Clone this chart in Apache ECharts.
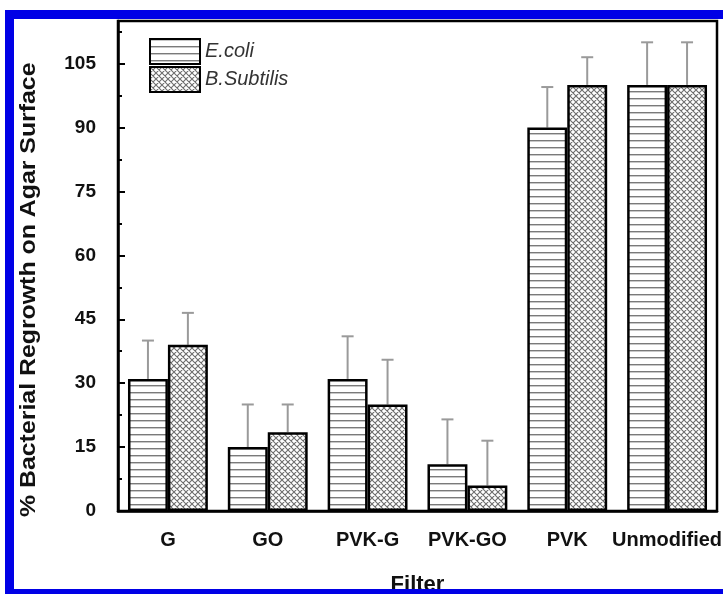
<!DOCTYPE html>
<html>
<head>
<meta charset="utf-8">
<script src="https://cdn.jsdelivr.net/npm/echarts@6/dist/echarts.min.js"></script>
<style>
html,body{margin:0;padding:0;background:#fff;}
#chart{width:723px;height:594px;}
</style>
</head>
<body>
<div id="chart"></div>
<script>
// ---- data ----
var categories = ['G', 'GO', 'PVK-G', 'PVK-GO', 'PVK', 'Unmodified'];
var ecoli      = [31, 15, 31, 11, 90, 100];
var ecoliErr   = [9, 10, 10, 10.5, 9.5, 10];
var bsub       = [39, 18.5, 25, 6, 100, 100];
var bsubErr    = [7.5, 6.5, 10.5, 10.5, 6.5, 10];
var yTicks     = [0, 15, 30, 45, 60, 75, 90, 105];

// ---- patterns ----
function linePattern() {
  var c = document.createElement('canvas');
  c.width = 4; c.height = 7;
  var g = c.getContext('2d');
  g.fillStyle = '#ffffff'; g.fillRect(0, 0, 4, 7);
  g.fillStyle = '#7a7a7a'; g.fillRect(0, 0, 4, 1);
  g.fillStyle = '#c8c8c8'; g.fillRect(0, 1, 4, 1);
  return c;
}
function crossPattern() {
  var c = document.createElement('canvas');
  c.width = 6; c.height = 6;
  var g = c.getContext('2d');
  g.fillStyle = '#ffffff'; g.fillRect(0, 0, 6, 6);
  g.strokeStyle = '#6e6e6e'; g.lineWidth = 1.1;
  g.beginPath();
  g.moveTo(-1, -1); g.lineTo(7, 7);
  g.moveTo(-1, 5); g.lineTo(1, 7);
  g.moveTo(5, -1); g.lineTo(7, 1);
  g.moveTo(7, -1); g.lineTo(-1, 7);
  g.moveTo(1, -1); g.lineTo(-1, 1);
  g.moveTo(7, 5); g.lineTo(5, 7);
  g.stroke();
  return c;
}

function errData(vals, errs) {
  return vals.map(function (v, i) { return [i, v, v + errs[i]]; });
}
function errRender(offset) {
  return function (params, api) {
    var idx = api.value(0);
    var p0 = api.coord([idx, api.value(1)]);
    var p1 = api.coord([idx, api.value(2)]);
    var bw = api.size([1, 0])[0];
    var x = p0[0] + offset * bw;
    var st = { stroke: '#9a9a9a', lineWidth: 2 };
    return {
      type: 'group',
      children: [
        { type: 'line', shape: { x1: x, y1: p0[1], x2: x, y2: p1[1] }, style: st },
        { type: 'line', shape: { x1: x - 6, y1: p1[1], x2: x + 6, y2: p1[1] }, style: st }
      ]
    };
  };
}

var chart = echarts.init(document.getElementById('chart'), null, { renderer: 'canvas' });
var fontFam = '"Liberation Sans", Arial, sans-serif';

chart.setOption({
  animation: false,
  backgroundColor: '#ffffff',
  grid: {
    left: 118, right: 6, top: 21, bottom: 83,
    containLabel: false,
    outerBoundsMode: 'none',
    show: true, borderColor: '#000', borderWidth: 2.5, backgroundColor: 'transparent'
  },
  legend: {
    data: ['E.coli', 'B.Subtilis'],
    orient: 'vertical',
    left: 149, top: 38,
    itemWidth: 50, itemHeight: 25, itemGap: 1,
    icon: 'rect',
    textStyle: { fontFamily: fontFam, fontStyle: 'italic', fontSize: 20, color: '#333' },
    padding: 0
  },
  xAxis: {
    type: 'category',
    data: categories,
    name: 'Filter',
    nameLocation: 'middle',
    nameGap: 63,
    nameTextStyle: { fontFamily: fontFam, fontWeight: 'bold', fontSize: 22, color: '#111' },
    axisLine: { lineStyle: { color: '#000', width: 2.5 } },
    axisTick: { show: false },
    axisLabel: { fontFamily: fontFam, fontWeight: 'bold', fontSize: 20, color: '#111', margin: 19, interval: 0 },
    splitLine: { show: false }
  },
  yAxis: {
    type: 'value',
    min: 0, max: 115, interval: 15,
    axisLine: { show: true, lineStyle: { color: '#000', width: 2.5 } },
    axisTick: { show: true, inside: true, length: 7, lineStyle: { color: '#000', width: 2 } },
    minorTick: { show: true, splitNumber: 2, length: 4, lineStyle: { color: '#000', width: 2 } },
    axisLabel: {
      fontFamily: fontFam, fontWeight: 'bold', fontSize: 19, color: '#111', margin: 22,
      showMaxLabel: false,
      formatter: function (v) { return yTicks.indexOf(v) >= 0 ? String(v) : ''; }
    },
    splitLine: { show: false }
  },
  series: [
    {
      name: 'E.coli', type: 'bar', data: ecoli,
      barGap: '0%', barCategoryGap: '20%',
      itemStyle: { color: { image: linePattern(), repeat: 'repeat' }, borderColor: '#000', borderWidth: 2.5 },
      z: 3
    },
    {
      name: 'B.Subtilis', type: 'bar', data: bsub,
      barGap: '0%', barCategoryGap: '20%',
      itemStyle: { color: { image: crossPattern(), repeat: 'repeat' }, borderColor: '#000', borderWidth: 2.5 },
      z: 3
    },
    {
      type: 'custom', data: errData(ecoli, ecoliErr), renderItem: errRender(-0.2), z: 2,
      encode: { x: 0, y: [1, 2] }
    },
    {
      type: 'custom', data: errData(bsub, bsubErr), renderItem: errRender(0.2), z: 2,
      encode: { x: 0, y: [1, 2] }
    }
  ],
  graphic: [
    {
      type: 'text', x: 18, y: 517, z: 50,
      rotation: Math.PI / 2,
      scaleX: 1.13,
      style: { text: '% Bacterial Regrowth on Agar Surface', fontFamily: fontFam, fontWeight: 'bold', fontSize: 22, fill: '#111', textAlign: 'left', textVerticalAlign: 'top' }
    },
    {
      type: 'rect', z: 100, silent: true,
      shape: { x: 9.5, y: 14.5, width: 800, height: 579 },
      style: { fill: 'none', stroke: '#0000e6', lineWidth: 9 }
    }
  ]
});
</script>
</body>
</html>
